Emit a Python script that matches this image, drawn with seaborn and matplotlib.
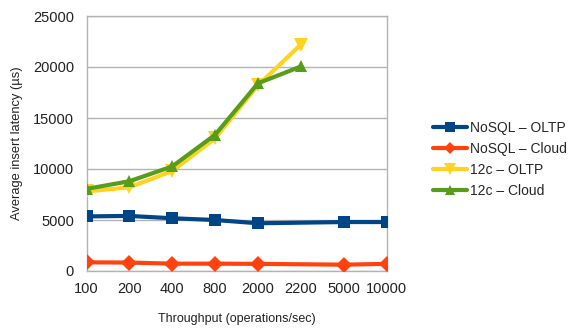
import matplotlib
matplotlib.use("Agg")
import matplotlib.pyplot as plt
import seaborn as sns
import pandas as pd
import numpy as np

# Throughput levels (categorical axis)
throughput = ["100", "200", "400", "800", "2000", "2200", "5000", "10000"]

# Average insert latency (µs); None where a series has no measurement
nosql_oltp = [5350, 5400, 5170, 5000, 4680, None, 4800, 4800]
nosql_cloud = [850, 830, 720, 720, 700, None, 620, 700]
c12_oltp = [7800, 8200, 9800, 13000, 18200, 22200, None, None]
c12_cloud = [8050, 8800, 10250, 13350, 18400, 20050, None, None]

series_names = ["NoSQL – OLTP", "NoSQL – Cloud", "12c – OLTP", "12c – Cloud"]
series_values = [nosql_oltp, nosql_cloud, c12_oltp, c12_cloud]
colors = ["#004586", "#ff420e", "#ffd320", "#579d1c"]
markers = ["s", "D", "v", "^"]
marker_sizes = [9, 8, 10, 9]

rows = []
for name, vals in zip(series_names, series_values):
    for pos, (label, v) in enumerate(zip(throughput, vals)):
        if v is not None:
            rows.append({"series": name, "pos": pos, "latency": v})
df = pd.DataFrame(rows)

sns.set_style("white")
plt.rcParams["font.family"] = ["Liberation Sans", "DejaVu Sans"]

fig = plt.figure(figsize=(5.71, 3.29), dpi=100)
ax = fig.add_axes([86.5 / 571, 1 - 271 / 329, 300 / 571, 255 / 329])

for name, color, m, ms in zip(series_names, colors, markers, marker_sizes):
    sub = df[df["series"] == name]
    sns.lineplot(data=sub, x="pos", y="latency", ax=ax, color=color,
                 marker=m, markersize=ms, markeredgewidth=0, linewidth=3,
                 label=name, zorder=3)

ax.set_xlim(0, len(throughput) - 1)
ax.set_ylim(0, 25000)
ax.set_xticks(range(len(throughput)))
ax.set_xticklabels(throughput)
ax.set_yticks(np.arange(0, 25001, 5000))
ax.yaxis.grid(True, color="#b3b3b3", linewidth=1)
ax.xaxis.grid(False)
for side in ["left", "right", "top", "bottom"]:
    ax.spines[side].set_visible(True)
    ax.spines[side].set_color("#b3b3b3")
    ax.spines[side].set_linewidth(1)
ax.tick_params(axis="both", length=6, width=1, color="#b3b3b3",
               labelsize=10.5, labelcolor="#222222", direction="out")
ax.tick_params(axis="x", pad=2)
ax.tick_params(axis="y", pad=3)
ax.set_xlabel("Throughput (operations/sec)", fontsize=9, color="#222222", labelpad=12)
ax.set_ylabel("Average insert latency (µs)", fontsize=9.3, color="#222222", labelpad=7)

handles, labels = ax.get_legend_handles_labels()
ax.legend(handles, labels, loc="center left", bbox_to_anchor=(433 / 571, 0.515),
          bbox_transform=fig.transFigure, frameon=False, fontsize=10,
          handlelength=2.45, handletextpad=0.25, labelspacing=0.5,
          borderaxespad=0, borderpad=0, markerscale=0.8)

fig.savefig("out.png", dpi=100)
